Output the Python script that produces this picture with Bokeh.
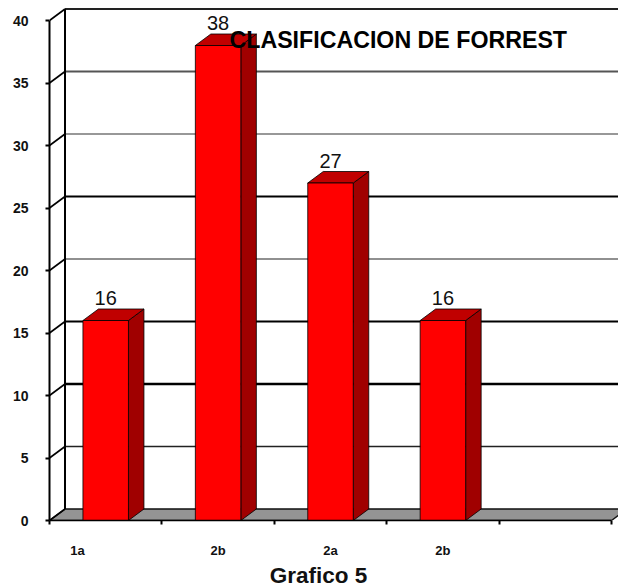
from bokeh.plotting import figure
from bokeh.models import FixedTicker, Range1d, Label, LinearAxis
from bokeh.core.properties import value
from bokeh.embed import file_html
from bokeh.resources import INLINE

categories = ["1a", "2b", "2a", "2b"]
counts = [16, 38, 27, 16]
label_slots = [0.25, 1.5, 2.5, 3.5]
y_ticks = [0, 5, 10, 15, 20, 25, 30, 35, 40]
slot_edges = [0, 1, 2, 3, 4, 5]

# width and colour of each wall line, from 5 up to 40
wall_levels = [5, 10, 15, 20, 25, 30, 35, 40]
wall_widths = [1.6, 2.4, 2.0, 1.2, 2.0, 1.2, 1.8, 2.0]
wall_colors = ["#222222", "#000000", "#000000", "#222222", "#000000", "#333333", "#555555", "#222222"]

UNIT_X = 112.4   # pixels per category slot
UNIT_Y = 12.5    # pixels per count
DX = 15.5 / UNIT_X   # depth of the 3D box, along x
DY = 11.5 / UNIT_Y   # depth of the 3D box, along y
BAR_W = 45.5 / UNIT_X
CAPTION_X = 269 / UNIT_X

p = figure(width=618, height=586, output_backend="svg", toolbar_location=None,
           x_range=Range1d(0, 569 / UNIT_X), y_range=Range1d(0, 520 / UNIT_Y),
           min_border_left=49, min_border_right=0, min_border_top=0, min_border_bottom=0,
           frame_width=569, frame_height=520, background_fill_color="white",
           outline_line_color=None)
p.grid.visible = False

# floor of the box
p.patch([0, 5, 5 + DX, DX], [0, 0, DY, DY], fill_color="#949494", line_color="#111111", line_width=1.4)

# back wall lines
p.multi_line([[DX, 5 + DX] for _ in wall_levels],
             [[v + DY, v + DY] for v in wall_levels],
             line_width=wall_widths, line_color=wall_colors)
p.line([DX, DX], [DY, 40 + DY], line_color="black", line_width=2)

# side wall diagonals
p.multi_line([[0, DX] for _ in y_ticks], [[v, v + DY] for v in y_ticks],
             line_color="black", line_width=1.6)

# bars: side, top, then front
for i, v in enumerate(counts):
    c = i + 0.5
    l, r = c - BAR_W / 2, c + BAR_W / 2
    p.patch([r, r + DX, r + DX, r], [0, DY, v + DY, v], fill_color="#a00000", line_color="black", line_width=0.8)
    p.patch([l, r, r + DX, l + DX], [v, v, v + DY, v + DY], fill_color="#c00000", line_color="black", line_width=0.8)
    p.quad(left=[l], right=[r], bottom=[0], top=[v], fill_color="#ff0000", line_color="black", line_width=0.8)

# value labels above each bar
p.text(x=[i + 0.5 for i in range(len(counts))],
       y=[v + DY + 0.3 for v in counts],
       text=[str(v) for v in counts],
       text_font=value("Liberation Sans"), text_font_size="20px",
       text_align="center", text_baseline="bottom", text_color="#111111")

# heading inside the plot area; screen offsets count from the frame's lower-left corner
p.add_layout(Label(x=180, y=520 - 39, x_units="screen", y_units="screen",
                   text="CLASIFICACION DE FORREST", text_font="Liberation Sans",
                   text_font_size="23.2px", text_font_style="bold", text_color="black",
                   text_baseline="middle", text_align="left"))

ax = p.yaxis[0]
ax.bounds = (0, 40)
ax.ticker = FixedTicker(ticks=y_ticks)
ax.axis_line_width = 2
ax.major_tick_line_width = 2
ax.major_tick_in = 0
ax.major_tick_out = 4
ax.minor_tick_line_color = None
ax.major_label_text_font = "Liberation Sans"
ax.major_label_text_font_size = "14px"
ax.major_label_text_font_style = "bold"
ax.major_label_text_color = "#111111"
ax.major_label_standoff = 17

xa = p.xaxis[0]
xa.bounds = (0, 5)
xa.ticker = FixedTicker(ticks=label_slots, minor_ticks=slot_edges)
xa.major_label_overrides = dict(zip(label_slots, categories))
xa.axis_line_width = 1.6
xa.major_tick_line_color = None
xa.major_tick_in = 0
xa.major_tick_out = 0
xa.minor_tick_line_width = 2
xa.minor_tick_in = 0
xa.minor_tick_out = 4
xa.major_label_text_font = "Liberation Sans"
xa.major_label_text_font_size = "13px"
xa.major_label_text_font_style = "bold"
xa.major_label_text_color = "#111111"
xa.major_label_standoff = 18

# caption set as the single label of a bare lower axis
caption = LinearAxis(ticker=FixedTicker(ticks=[CAPTION_X]),
                     major_label_overrides={CAPTION_X: "Grafico 5"},
                     axis_line_color=None, major_tick_line_color=None, minor_tick_line_color=None,
                     major_tick_in=0, major_tick_out=0, major_label_standoff=2,
                     major_label_text_font="Liberation Sans", major_label_text_font_size="22.5px",
                     major_label_text_font_style="bold", major_label_text_color="#111111")
p.add_layout(caption, "below")

open("out.html", "w").write(file_html(p, INLINE))
